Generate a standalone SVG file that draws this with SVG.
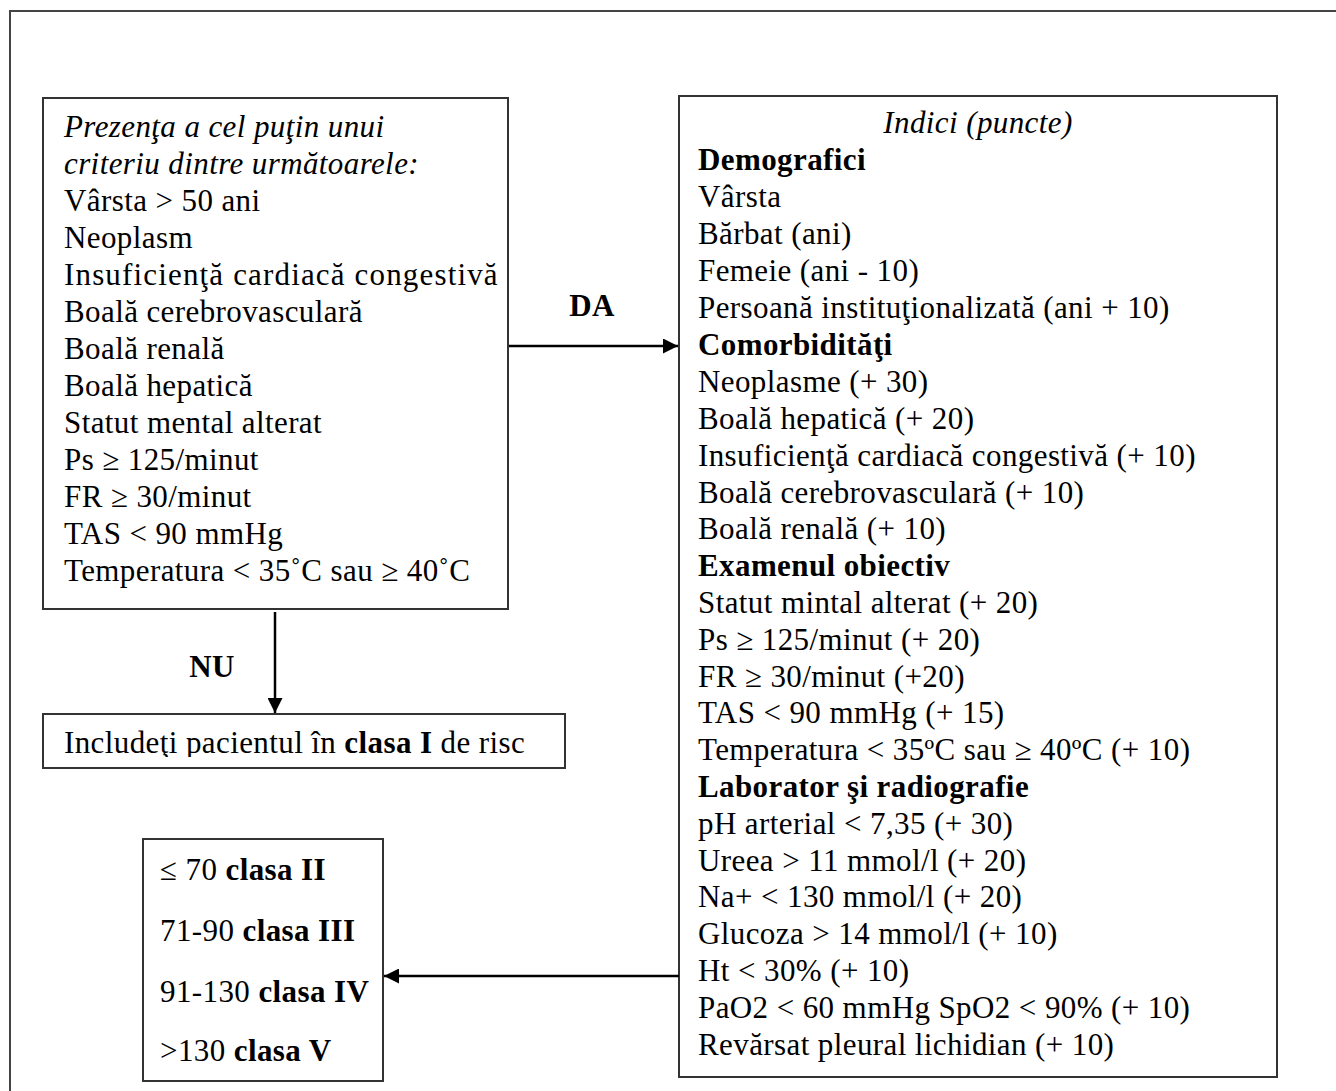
<svg xmlns="http://www.w3.org/2000/svg" width="1336" height="1091" viewBox="0 0 1336 1091">
<style>
text{font-family:"Liberation Serif","Times New Roman",serif;font-size:31px;letter-spacing:0.4px;fill:#000}
.b{font-weight:bold}
.i{font-style:italic}
.box{fill:#fff;stroke:#333;stroke-width:2}
.frame{fill:none;stroke:#444;stroke-width:2}
.con{stroke:#000;stroke-width:2.5;fill:none}
</style>
<defs>
<marker id="ah" viewBox="0 0 10 10" refX="10" refY="5" markerWidth="6" markerHeight="6" markerUnits="strokeWidth" orient="auto">
<path d="M0,0 L10,5 L0,10 Z" fill="#000"/>
</marker>
<clipPath id="c1"><rect x="43" y="714" width="522" height="43"/></clipPath>
</defs>
<rect class="frame" x="10" y="11" width="1340" height="1100"/>

<g id="criteria">
<rect class="box" x="43" y="98" width="465" height="511"/>
<text x="64" y="137" class="i">Prezenţa a cel puţin unui</text>
<text x="64" y="174" class="i">criteriu dintre următoarele:</text>
<text x="64" y="211">Vârsta &gt; 50 ani</text>
<text x="64" y="248">Neoplasm</text>
<text x="64" y="285" textLength="434" lengthAdjust="spacing">Insuficienţă cardiacă congestivă</text>
<text x="64" y="322">Boală cerebrovasculară</text>
<text x="64" y="359">Boală renală</text>
<text x="64" y="396">Boală hepatică</text>
<text x="64" y="433">Statut mental alterat</text>
<text x="64" y="470">Ps ≥ 125/minut</text>
<text x="64" y="507">FR ≥ 30/minut</text>
<text x="64" y="544">TAS &lt; 90 mmHg</text>
<text x="64" y="581">Temperatura &lt; 35˚C sau ≥ 40˚C</text>
</g>

<g id="class1">
<rect class="box" x="43" y="714" width="522" height="54"/>
<text x="64" y="753" clip-path="url(#c1)">Includeţi pacientul în <tspan class="b">clasa I</tspan> de risc</text>
</g>

<g id="indici">
<rect class="box" x="679" y="96" width="598" height="981"/>
<text x="978" y="133" class="i" text-anchor="middle">Indici (puncte)</text>
<text x="698" y="170" class="b">Demografici</text>
<text x="698" y="207">Vârsta</text>
<text x="698" y="244">Bărbat (ani)</text>
<text x="698" y="281">Femeie (ani - 10)</text>
<text x="698" y="318">Persoană instituţionalizată (ani + 10)</text>
<text x="698" y="355" class="b">Comorbidităţi</text>
<text x="698" y="392">Neoplasme (+ 30)</text>
<text x="698" y="429">Boală hepatică (+ 20)</text>
<text x="698" y="466">Insuficienţă cardiacă congestivă (+ 10)</text>
<text x="698" y="503">Boală cerebrovasculară (+ 10)</text>
<text x="698" y="539">Boală renală (+ 10)</text>
<text x="698" y="576" class="b">Examenul obiectiv</text>
<text x="698" y="613">Statut mintal alterat (+ 20)</text>
<text x="698" y="650">Ps ≥ 125/minut (+ 20)</text>
<text x="698" y="687">FR ≥ 30/minut (+20)</text>
<text x="698" y="723">TAS &lt; 90 mmHg (+ 15)</text>
<text x="698" y="760">Temperatura &lt; 35ºC sau ≥ 40ºC (+ 10)</text>
<text x="698" y="797" class="b">Laborator şi radiografie</text>
<text x="698" y="834">pH arterial &lt; 7,35 (+ 30)</text>
<text x="698" y="871">Ureea &gt; 11 mmol/l (+ 20)</text>
<text x="698" y="907">Na+ &lt; 130 mmol/l (+ 20)</text>
<text x="698" y="944">Glucoza &gt; 14 mmol/l (+ 10)</text>
<text x="698" y="981">Ht &lt; 30% (+ 10)</text>
<text x="698" y="1018">PaO2 &lt; 60 mmHg SpO2 &lt; 90% (+ 10)</text>
<text x="698" y="1055">Revărsat pleural lichidian (+ 10)</text>
</g>

<g id="classes">
<rect class="box" x="143" y="839" width="240" height="242"/>
<text x="160" y="880">≤ 70 <tspan class="b">clasa II</tspan></text>
<text x="160" y="941">71-90 <tspan class="b">clasa III</tspan></text>
<text x="160" y="1002">91-130 <tspan class="b">clasa IV</tspan></text>
<text x="160" y="1061">&gt;130 <tspan class="b">clasa V</tspan></text>
</g>

<g id="connectors">
<line class="con" x1="509" y1="346" x2="678" y2="346" marker-end="url(#ah)"/>
<text x="592" y="316" class="b" text-anchor="middle">DA</text>
<line class="con" x1="275" y1="612" x2="275" y2="713" marker-end="url(#ah)"/>
<text x="212" y="677" class="b" text-anchor="middle">NU</text>
<line class="con" x1="679" y1="976" x2="384" y2="976" marker-end="url(#ah)"/>
</g>
</svg>
